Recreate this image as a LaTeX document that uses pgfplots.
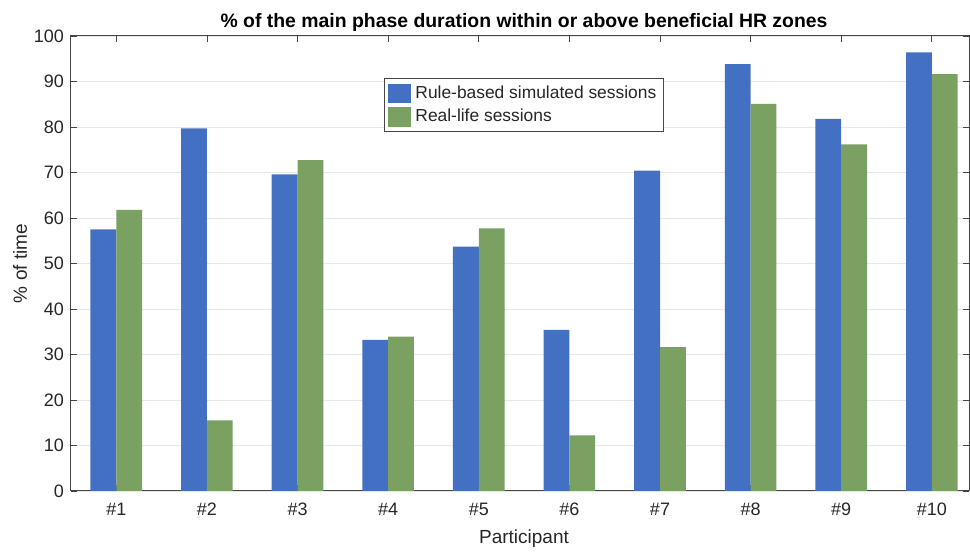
\documentclass[border=0pt]{standalone}
\usepackage{pgfplots}
\pgfplotsset{compat=1.18}
\usepackage{fontspec}
\setmainfont{Liberation Sans}

\definecolor{mblue}{RGB}{68,112,196}
\definecolor{mgreen}{RGB}{122,160,98}
\definecolor{axgray}{RGB}{70,70,70}
\definecolor{gridgray}{RGB}{232,232,232}

\pgfplotstableread{
x rule real
1 57.5 61.8
2 79.7 15.5
3 69.6 72.7
4 33.2 33.9
5 53.7 57.7
6 35.4 12.2
7 70.4 31.6
8 93.8 85.1
9 81.8 76.2
10 96.4 91.6
}\hrdata

\begin{document}
\begin{tikzpicture}
\begin{axis}[
    scale only axis,
    width=449pt, height=227.5pt,
    xmin=0.5, xmax=10.41,
    ymin=0, ymax=100,
    ybar=0pt,
    bar width=0.285,
    xtick={1,...,10},
    xticklabels={\#1,\#2,\#3,\#4,\#5,\#6,\#7,\#8,\#9,\#10},
    ytick={0,10,...,100},
    tick align=inside,
    major tick length=3pt,
    tick style={axgray, line width=0.4pt},
    axis line style={axgray, line width=0.5pt},
    ymajorgrids,
    major grid style={gridgray, line width=0.4pt},
    ticklabel style={font=\fontsize{9}{10}\selectfont, text=black!85},
    xticklabel style={yshift=-2.5pt},
    /pgf/number format/assume math mode=true,
    title={\% of the main phase duration within or above beneficial HR zones},
    title style={at={(axis description cs:0.5,1)}, anchor=center, yshift=1pt, xshift=2pt,
        font=\bfseries\fontsize{9.7}{11}\selectfont},
    xlabel={Participant},
    xlabel style={at={(axis description cs:0.5,0)}, anchor=center, yshift=-24pt, xshift=2pt,
        font=\fontsize{9.5}{10}\selectfont, text=black!85},
    ylabel={\% of time},
    ylabel style={at={(axis description cs:-0.0568,0.5)}, anchor=center,
        font=\fontsize{9.5}{10}\selectfont, text=black!85},
    legend cell align=left,
    legend style={at={(axis description cs:0.3486,0.9077)}, anchor=north west,
        draw=axgray, line width=0.5pt, font=\fontsize{8.7}{10}\selectfont, text=black!85,
        inner sep=1.5pt, row sep=0pt, /tikz/every even column/.append style={column sep=2pt}},
    legend image code/.code={\fill[#1] (-0.05cm,-0.17cm) rectangle (0.37cm,0.17cm);},
    clip=false,
]
\addplot[fill=mblue, draw=none] table[x=x, y=rule] {\hrdata};
\addplot[fill=mgreen, draw=none] table[x=x, y=real] {\hrdata};
\legend{Rule-based simulated sessions, Real-life sessions}
\end{axis}
\useasboundingbox (-35.5pt,-28pt) rectangle (449.5pt,245.5pt);
\end{tikzpicture}
\end{document}
